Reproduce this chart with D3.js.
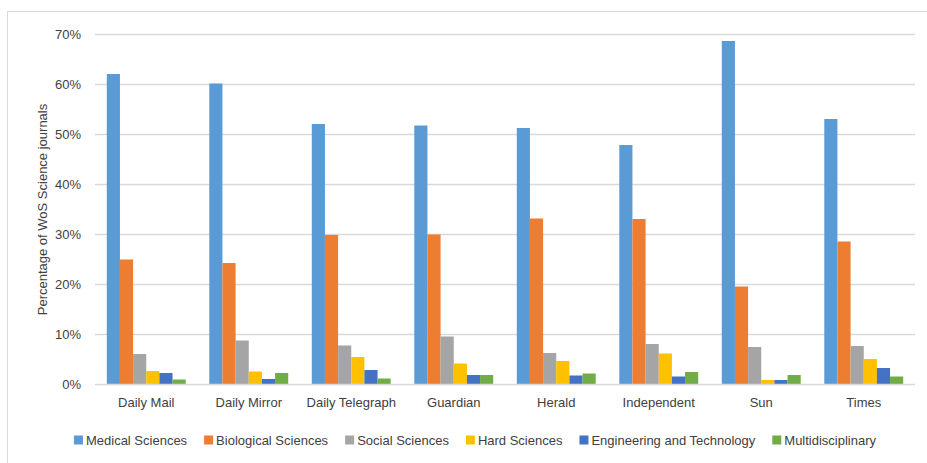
<!DOCTYPE html>
<html><head><meta charset="utf-8">
<script src="https://cdn.jsdelivr.net/npm/d3@7"></script>
<style>body{margin:0;background:#fff}svg{display:block}text{font-family:"Liberation Sans",Arial,sans-serif;fill:#404040}</style>
</head><body><svg id="c" width="927" height="463"></svg>
<script>
const categories = ["Daily Mail","Daily Mirror","Daily Telegraph","Guardian","Herald","Independent","Sun","Times"];
const seriesNames = ["Medical Sciences","Biological Sciences","Social Sciences","Hard Sciences","Engineering and Technology","Multidisciplinary"];
const medical = [62.1,60.2,52.1,51.8,51.3,47.9,68.7,53.1];
const biological = [25.0,24.3,29.9,30.0,33.2,33.1,19.6,28.6];
const social = [6.1,8.8,7.8,9.6,6.3,8.1,7.5,7.7];
const hard = [2.7,2.6,5.5,4.2,4.7,6.2,0.9,5.1];
const engineering = [2.3,1.1,2.9,1.9,1.8,1.6,0.9,3.3];
const multidisciplinary = [1.0,2.3,1.2,1.9,2.2,2.5,1.9,1.6];
const colors = ["#5B9BD5","#ED7D31","#A5A5A5","#FFC000","#4472C4","#70AD47"];
const yTicks = [0,10,20,30,40,50,60,70];
const yTitle = "Percentage of WoS Science journals";

(function(){
const seriesValues = [medical,biological,social,hard,engineering,multidisciplinary];
const svg = d3.select("#c");
// frame
svg.append("rect").attr("x",7.5).attr("y",11.5).attr("width",940).attr("height",470)
  .attr("fill","none").attr("stroke","#d9d9d9");

const pl=95, pr=915, pt=34.5, pb=384.5;
const x0 = d3.scaleBand().domain(categories).range([pl,pr]).paddingInner(0.23).paddingOuter(0.115);
const x1 = d3.scaleBand().domain(d3.range(seriesNames.length)).range([0,x0.bandwidth()]);
const y = d3.scaleLinear().domain([0,70]).range([pb,pt]);

// gridlines
svg.append("g").selectAll("line").data(yTicks.filter(t=>t>0)).join("line")
  .attr("x1",pl).attr("x2",pr).attr("y1",d=>y(d)).attr("y2",d=>y(d))
  .attr("stroke","#d9d9d9").attr("stroke-width",1.3);

// bars
const g = svg.append("g");
categories.forEach((c,i)=>{
  seriesValues.forEach((vals,s)=>{
    g.append("rect").attr("x",x0(c)+x1(s)).attr("width",x1.bandwidth())
      .attr("y",y(vals[i])).attr("height",y(0)-y(vals[i])).attr("fill",colors[s]);
  });
});
// baseline
svg.append("line").attr("x1",pl).attr("x2",pr).attr("y1",y(0)).attr("y2",y(0))
  .attr("stroke","#d9d9d9").attr("stroke-width",1.5);

// y axis labels
const yAxis = d3.axisLeft(y).tickValues(yTicks).tickFormat(d=>d+"%").tickSize(0).tickPadding(14);
const ya = svg.append("g").attr("transform",`translate(${pl},0)`).call(yAxis);
ya.select(".domain").remove();
ya.selectAll("text").attr("font-size",13).attr("fill","#404040").attr("font-family","Liberation Sans, Arial, sans-serif");

// x axis labels
const xAxis = d3.axisBottom(x0).tickSize(0).tickPadding(13);
const xa = svg.append("g").attr("transform",`translate(0,${pb})`).call(xAxis);
xa.select(".domain").remove();
xa.selectAll("text").attr("font-size",13).attr("fill","#404040").attr("font-family","Liberation Sans, Arial, sans-serif");

// y title
svg.append("text").attr("transform",`translate(47,${(pt+pb)/2}) rotate(-90)`)
  .attr("text-anchor","middle").attr("font-size",13).text(yTitle);

// legend
const lg = svg.append("g");
const gap = 17;
let cx=0;
seriesNames.forEach((n,i)=>{
  const it = lg.append("g").attr("transform",`translate(${cx},0)`);
  it.append("rect").attr("x",0).attr("y",-4.5).attr("width",9).attr("height",9).attr("fill",colors[i]);
  const t = it.append("text").attr("x",12).attr("y",4.5).attr("font-size",13).text(n);
  cx += 12 + t.node().getComputedTextLength() + gap;
});
const total = cx-gap;
lg.attr("transform",`translate(${475-total/2},440)`);
})();
</script></body></html>
